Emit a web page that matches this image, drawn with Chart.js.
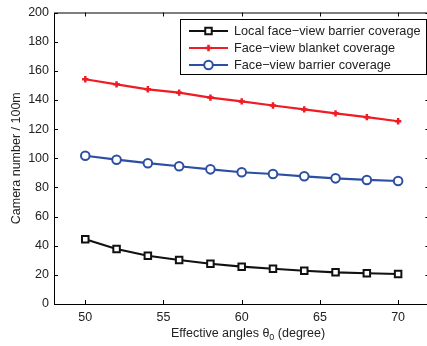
<!DOCTYPE html>
<html>
<head>
<meta charset="utf-8">
<script src="https://cdn.jsdelivr.net/npm/chart.js@4/dist/chart.umd.min.js"></script>
<style>
  html, body { margin: 0; padding: 0; background: #fff; overflow: hidden; }
  #wrap { position: relative; width: 436px; height: 346px; }
</style>
</head>
<body>
<div id="wrap"><canvas id="c"></canvas></div>
<script>
// data
const angles = [50, 52, 54, 56, 58, 60, 62, 64, 66, 68, 70];
const localBarrier = [44.4, 37.7, 33.1, 30.2, 27.6, 25.6, 24.2, 22.8, 21.7, 21.1, 20.6];
const blanket = [154.2, 150.7, 147.3, 145.0, 141.6, 139.0, 136.2, 133.5, 130.8, 128.2, 125.4];
const barrier = [101.7, 99.0, 96.6, 94.5, 92.4, 90.4, 89.2, 87.6, 86.2, 85.1, 84.4];
const seriesNames = ['Local face\u2212view barrier coverage', 'Face\u2212view blanket coverage', 'Face\u2212view barrier coverage'];
const xTicks = [50, 55, 60, 65, 70];
const yTicks = [0, 20, 40, 60, 80, 100, 120, 140, 160, 180, 200];

const FONT = "'Liberation Sans', Arial, sans-serif";
const COLORS = { local: '#111111', blanket: '#ee1c25', barrier: '#2c4fa3' };

const pts = vals => angles.map((a, i) => ({ x: a, y: vals[i] }));

// MATLAB style frame with inward ticks on all four sides
const framePlugin = {
    id: 'frame',
    afterDraw(chart) {
        const { ctx, chartArea: a, scales } = chart;
        ctx.save();
        ctx.strokeStyle = '#000';
        ctx.lineWidth = 1;
        ctx.strokeRect(a.left + 0.5, a.top + 0.5, a.right - a.left, a.bottom - a.top);
        ctx.beginPath();
        xTicks.forEach(v => {
            const x = Math.round(scales.x.getPixelForValue(v)) + 0.5;
            ctx.moveTo(x, a.bottom); ctx.lineTo(x, a.bottom - 4);
            ctx.moveTo(x, a.top); ctx.lineTo(x, a.top + 4);
        });
        yTicks.forEach(v => {
            const y = Math.round(scales.y.getPixelForValue(v)) + 0.5;
            ctx.moveTo(a.left, y); ctx.lineTo(a.left + 4, y);
            ctx.moveTo(a.right, y); ctx.lineTo(a.right - 4, y);
        });
        ctx.stroke();

        // x axis title with subscript
        ctx.fillStyle = '#222';
        ctx.textBaseline = 'alphabetic';
        const p1 = 'Effective angles \u03b8', p2 = ' (degree)';
        ctx.font = `12.5px ${FONT}`;
        const w1 = ctx.measureText(p1).width, w3 = ctx.measureText(p2).width;
        ctx.font = `9px ${FONT}`;
        const w2 = ctx.measureText('0').width;
        const total = w1 + w2 + w3;
        const x = 248 - total / 2;
        const base = 337;
        ctx.font = `12.5px ${FONT}`;
        ctx.fillText(p1, x, base);
        ctx.font = `9px ${FONT}`;
        ctx.fillText('0', x + w1, base + 3);
        ctx.font = `12.5px ${FONT}`;
        ctx.fillText(p2, x + w1 + w2, base);

        // boxed legend
        const box = { l: 180, t: 19, r: 426, b: 74 };
        ctx.fillStyle = '#fff';
        ctx.fillRect(box.l, box.t, box.r - box.l, box.b - box.t);
        ctx.strokeStyle = '#000';
        ctx.lineWidth = 1;
        ctx.strokeRect(box.l + 0.5, box.t + 0.5, box.r - box.l, box.b - box.t);
        const rows = [31, 48, 65];
        chart.data.datasets.forEach((ds, i) => {
            const y = rows[i];
            ctx.strokeStyle = ds.borderColor;
            ctx.lineWidth = 2;
            ctx.beginPath();
            ctx.moveTo(189, y); ctx.lineTo(228, y);
            ctx.stroke();
            ctx.fillStyle = ds.pointBackgroundColor;
            ctx.lineWidth = ds.pointBorderWidth;
            Chart.helpers.drawPoint(ctx, {
                pointStyle: ds.pointStyle, radius: ds.pointRadius, borderWidth: ds.pointBorderWidth, rotation: 0
            }, 208.5, y);
            ctx.fillStyle = '#222';
            ctx.font = `12.7px ${FONT}`;
            ctx.textBaseline = 'middle';
            ctx.fillText(seriesNames[i], 234, y + 0.5);
        });
        ctx.restore();
    },
};

function makeSet(label, vals, color, style, radius) {
    return {
        label,
        data: pts(vals),
        borderColor: color,
        backgroundColor: '#fff',
        pointBackgroundColor: style === 'cross' ? color : '#fff',
        pointBorderColor: color,
        borderWidth: 2.2,
        pointStyle: style,
        pointRadius: radius,
        pointBorderWidth: style === 'cross' ? 2.5 : 2,
        tension: 0,
    };
}

new Chart(document.getElementById('c'), {
    type: 'line',
    data: {
        datasets: [
            makeSet(seriesNames[0], localBarrier, COLORS.local, 'rect', 4.6),
            makeSet(seriesNames[1], blanket, COLORS.blanket, 'cross', 3.2),
            makeSet(seriesNames[2], barrier, COLORS.barrier, 'circle', 4.3),
        ],
    },
    options: {
        responsive: true,
        maintainAspectRatio: false,
        animation: false,
        layout: { padding: { top: 12, right: 6, left: 0, bottom: 0 } },
        plugins: { legend: { display: false }, tooltip: { enabled: false } },
        scales: {
            x: {
                type: 'linear',
                min: 48,
                max: 72,
                afterBuildTicks: s => { s.ticks = xTicks.map(v => ({ value: v })); },
                afterFit: s => { s.height = 42; },
                grid: { display: false, drawTicks: false },
                border: { display: false },
                ticks: { font: { family: FONT, size: 12.5 }, color: '#222', padding: 6, maxRotation: 0 },
            },
            y: {
                min: 0,
                max: 200,
                afterBuildTicks: s => { s.ticks = yTicks.map(v => ({ value: v })); },
                afterFit: s => { s.width = 54; },
                grid: { display: false, drawTicks: false },
                border: { display: false },
                ticks: { font: { family: FONT, size: 12.5 }, color: '#222', padding: 5 },
                title: {
                    display: true,
                    text: 'Camera number / 100m',
                    font: { family: FONT, size: 12.5 },
                    color: '#222',
                    padding: { top: 9, bottom: 0 },
                },
            },
        },
    },
    plugins: [framePlugin],
});
</script>
</body>
</html>
